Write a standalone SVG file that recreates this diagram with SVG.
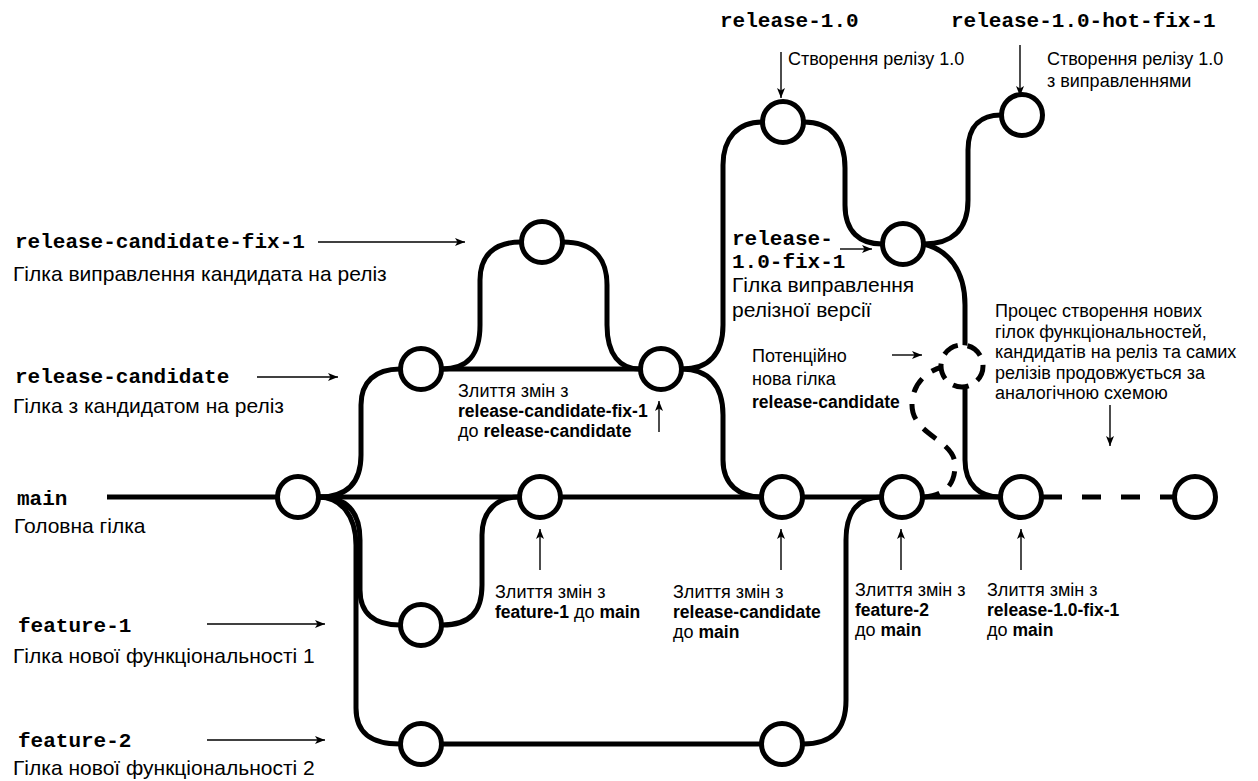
<svg xmlns="http://www.w3.org/2000/svg" width="1258" height="781" viewBox="0 0 1258 781">
<style>
.bg{fill:#fff}
.edge{fill:none;stroke:#000;stroke-width:5;stroke-linecap:butt}
.dash{fill:none;stroke:#000;stroke-width:5}
.node{fill:#fff;stroke:#000;stroke-width:5}
.ptr{fill:none;stroke:#000;stroke-width:1.4;marker-end:url(#ah)}
.mono{font-family:"Liberation Mono","Courier New",monospace;font-weight:bold;font-size:21px;fill:#000}
.big{font-family:"Liberation Sans",Arial,sans-serif;font-size:21px;fill:#000}
.sm{font-family:"Liberation Sans",Arial,sans-serif;font-size:18px;fill:#000}
.b{font-weight:bold;font-size:17.5px}
</style>
<defs>
<marker id="ah" markerWidth="12" markerHeight="10" refX="10" refY="4" orient="auto" markerUnits="userSpaceOnUse">
<path d="M0,0 L10,4 L0,8 L2.5,4 z" fill="#000"/>
</marker>
</defs>
<rect class="bg" x="0" y="0" width="1258" height="781"/>

<g id="connectors">
<path class="edge" d="M107,497 L1010,497"/>
<path class="dash" d="M1043,497 L1174,497" stroke-dasharray="19 20"/>
<path class="edge" d="M319,497 C345,497 361,485 361,455 L361,405 C361,382 375,369 400,369"/>
<path class="edge" d="M319,497 C345,497 360,510 360,540 L360,590 C360,615 376,625 400,625"/>
<path class="edge" d="M319,497 C340,497 356,515 356,545 L356,708 C356,734 372,744 400,744"/>
<path class="edge" d="M442,625 C470,625 482,612 482,585 L482,535 C482,510 498,497 519,497"/>
<path class="edge" d="M442,369 C468,369 480,355 480,325 L480,280 C480,255 495,242 521,242"/>
<path class="edge" d="M563,242 C590,242 607,255 607,285 L607,325 C607,355 620,369 640,369"/>
<path class="edge" d="M442,369 L640,369"/>
<path class="edge" d="M682,369 C708,369 723,355 723,325 L723,165 C723,138 738,122 762,122"/>
<path class="edge" d="M682,369 C708,369 723,385 723,415 L723,460 C723,485 740,497 761,497"/>
<path class="edge" d="M804,122 C830,122 845,138 845,168 L845,205 C845,232 860,244 882,244"/>
<path class="edge" d="M924,244 C950,244 968,232 968,200 L968,150 C968,125 982,115 1001,115"/>
<path class="edge" d="M924,244 C948,250 965,270 965,305 L965,460 C965,485 980,497 1000,497"/>
<path class="edge" d="M442,744 L761,744"/>
<path class="edge" d="M803,744 C830,744 846,732 846,700 L846,540 C846,510 860,497 881,497"/>
<path class="dash" d="M924,497 C945,495 955,485 955,465 C955,440 912,435 912,405 C912,385 925,372 942,367" stroke-dasharray="16 12"/>
</g>

<g id="node-main-root"><circle class="node" cx="298" cy="497" r="20.5"/></g>
<g id="node-rc1"><circle class="node" cx="421" cy="369" r="20.5"/></g>
<g id="node-f1"><circle class="node" cx="421" cy="625" r="20.5"/></g>
<g id="node-f2a"><circle class="node" cx="421" cy="744" r="20.5"/></g>
<g id="node-main2"><circle class="node" cx="540" cy="497" r="20.5"/></g>
<g id="node-rcfix"><circle class="node" cx="542" cy="242" r="20.5"/></g>
<g id="node-rc2"><circle class="node" cx="661" cy="369" r="20.5"/></g>
<g id="node-main3"><circle class="node" cx="782" cy="497" r="20.5"/></g>
<g id="node-f2b"><circle class="node" cx="782" cy="744" r="20.5"/></g>
<g id="node-r10"><circle class="node" cx="783" cy="122" r="20.5"/></g>
<g id="node-r10fix"><circle class="node" cx="903" cy="244" r="20.5"/></g>
<g id="node-main4"><circle class="node" cx="902" cy="497" r="20.5"/></g>
<g id="node-hotfix"><circle class="node" cx="1022" cy="115" r="20.5"/></g>
<g id="node-potential"><circle class="node" cx="962" cy="366" r="21" stroke-dasharray="16 10"/></g>
<g id="node-main5"><circle class="node" cx="1021" cy="497" r="20.5"/></g>
<g id="node-main6"><circle class="node" cx="1195" cy="497" r="20.5"/></g>

<g id="pointers">
<path class="ptr" d="M318,242 L465,242"/>
<path class="ptr" d="M257,377 L338,377"/>
<path class="ptr" d="M207,624 L325,624"/>
<path class="ptr" d="M207,740 L325,740"/>
<path class="ptr" d="M659,432 L659,401"/>
<path class="ptr" d="M540,570 L540,529"/>
<path class="ptr" d="M781,570 L781,529"/>
<path class="ptr" d="M901,570 L901,529"/>
<path class="ptr" d="M1021,570 L1021,529"/>
<path class="ptr" d="M781,52 L781,98"/>
<path class="ptr" d="M1020,45 L1020,96"/>
<path class="ptr" d="M840,249 L872,249"/>
<path class="ptr" d="M892,355 L922,355"/>
<path class="ptr" d="M1110,405 L1110,446"/>
</g>

<g id="labels">
<text class="mono" x="15" y="248">release-candidate-fix-1</text>
<text class="big" x="13" y="281">Гілка виправлення кандидата на реліз</text>
<text class="mono" x="15" y="383">release-candidate</text>
<text class="big" x="13" y="413">Гілка з кандидатом на реліз</text>
<text class="mono" x="17" y="505">main</text>
<text class="big" x="14" y="533">Головна гілка</text>
<text class="mono" x="18" y="632">feature-1</text>
<text class="big" x="13" y="663">Гілка нової функціональності 1</text>
<text class="mono" x="18" y="747">feature-2</text>
<text class="big" x="13" y="775">Гілка нової функціональності 2</text>

<text class="mono" x="720" y="27">release-1.0</text>
<text class="mono" x="951" y="27">release-1.0-hot-fix-1</text>
<text class="sm" x="788" y="65">Створення релізу 1.0</text>
<text class="sm" x="1047" y="65">Створення релізу 1.0</text>
<text class="sm" x="1047" y="87">з виправленнями</text>

<text class="mono" x="732" y="245">release-</text>
<text class="mono" x="732" y="268">1.0-fix-1</text>
<text class="big" x="732" y="292">Гілка виправлення</text>
<text class="big" x="732" y="317">релізної версії</text>

<text class="sm" x="752" y="362">Потенційно</text>
<text class="sm" x="752" y="385">нова гілка</text>
<text class="sm b" x="752" y="408">release-candidate</text>

<text class="sm" x="995" y="317">Процес створення нових</text>
<text class="sm" x="995" y="338">гілок функціональностей,</text>
<text class="sm" x="995" y="358">кандидатів на реліз та самих</text>
<text class="sm" x="995" y="379">релізів продовжується за</text>
<text class="sm" x="995" y="399">аналогічною схемою</text>

<text class="sm" x="458" y="397">Злиття змін з</text>
<text class="sm b" x="458" y="417">release-candidate-fix-1</text>
<text class="sm" x="458" y="437">до <tspan class="b">release-candidate</tspan></text>

<text class="sm" x="495" y="598">Злиття змін з</text>
<text class="sm" x="495" y="618"><tspan class="b">feature-1</tspan> до <tspan class="b">main</tspan></text>

<text class="sm" x="673" y="598">Злиття змін з</text>
<text class="sm b" x="673" y="618">release-candidate</text>
<text class="sm" x="673" y="638">до <tspan class="b">main</tspan></text>

<text class="sm" x="855" y="596">Злиття змін з</text>
<text class="sm b" x="855" y="616">feature-2</text>
<text class="sm" x="855" y="636">до <tspan class="b">main</tspan></text>

<text class="sm" x="987" y="596">Злиття змін з</text>
<text class="sm b" x="987" y="616">release-1.0-fix-1</text>
<text class="sm" x="987" y="636">до <tspan class="b">main</tspan></text>
</g>
</svg>
